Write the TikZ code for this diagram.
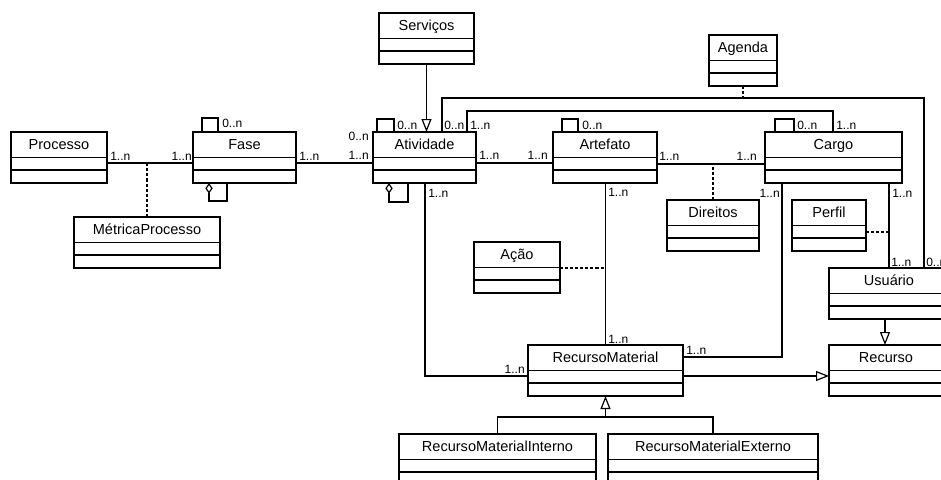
\documentclass[tikz,border=0pt]{standalone}
\usepackage{fontspec}
\setmainfont{Liberation Sans}
\usetikzlibrary{arrows.meta,calc}

\tikzset{
  classbox/.style={draw, line width=0.9pt, rectangle, outer sep=0pt, inner sep=0pt,
                   minimum height=38.25pt, anchor=north west, fill=white},
  classname/.style={anchor=base, inner sep=0pt, font=\fontsize{10.9}{12}\selectfont},
  mult/.style={inner sep=0pt, font=\fontsize{9}{10}\selectfont},
  assoc/.style={line width=0.9pt},
  dep/.style={line width=0.9pt, dash pattern=on 2.3pt off 1.5pt},
  gen/.style={line width=0.9pt, -{Triangle[open, length=9.75pt, width=7.5pt]}},
  aggr/.style={line width=0.9pt, {Diamond[open, length=8pt, width=5.5pt]}-},
}

% UML class: id, left, top, width (px), name
\newcommand\umlclass[5]{%
  \node[classbox, minimum width=#4*0.75pt] (#1) at (#2,#3) {};
  \draw[line width=0.9pt] ([yshift=-19.1pt]#1.north west) -- ([yshift=-19.1pt]#1.north east);
  \draw[line width=0.9pt] ([yshift=-28.5pt]#1.north west) -- ([yshift=-28.5pt]#1.north east);
  \node[classname] at ([yshift=-12.75pt]#1.north) {#5};
}

\begin{document}
\begin{tikzpicture}[x=0.75pt, y=-0.75pt]
\useasboundingbox (0,0) rectangle (941,479);
\clip (0,0) rectangle (941,479);

% classes
\umlclass{proc}{11}{132}{96}{Processo}
\umlclass{fase}{193}{132}{103}{Fase}
\umlclass{metr}{74}{217}{146}{MétricaProcesso}
\umlclass{serv}{379}{13}{95}{Serviços}
\umlclass{ativ}{373}{132}{103}{Atividade}
\umlclass{art}{553}{132}{104}{Artefato}
\umlclass{agenda}{709}{35}{68}{Agenda}
\umlclass{cargo}{765}{132}{137}{Cargo}
\umlclass{dir}{667}{200}{92}{Direitos}
\umlclass{perfil}{792}{200}{74}{Perfil}
\umlclass{acao}{474}{242}{86}{Ação}
\umlclass{usu}{829}{268}{120}{Usuário}
\umlclass{rec}{829}{345}{114}{Recurso}
\umlclass{rm}{528}{345}{155}{RecursoMaterial}
\umlclass{rmi}{399}{434}{197}{RecursoMaterialInterno}
\umlclass{rme}{608}{434}{210}{RecursoMaterialExterno}

% routing levels
\coordinate (yRow) at (0,163);
\coordinate (yRow2) at (0,164);
\coordinate (busA) at (442,98);
\coordinate (busAend) at (924,98);
\coordinate (busB) at (467,111);
\coordinate (busBend) at (833,111);
\coordinate (yRM) at (0,376);
\coordinate (yCR) at (0,357);
\coordinate (xCU) at (889,0);
\coordinate (xUR) at (885,0);
\coordinate (yPf) at (0,232);
\coordinate (yAc) at (0,268);
\coordinate (yT) at (0,417);

% associations along the main row
\draw[assoc] (proc.east |- yRow) -- (fase.west |- yRow);
\draw[assoc] (fase.east |- yRow) -- (ativ.west |- yRow);
\draw[assoc] (ativ.east |- yRow) -- (art.west |- yRow);
\draw[assoc] (art.east |- yRow2) -- (cargo.west |- yRow2);

% association classes
\draw[dep] (metr.north) -- (metr.north |- yRow);
\draw[dep] (dir.north) -- (dir.north |- yRow2);
\draw[dep] (agenda.south) -- (agenda.south |- busA);
\draw[dep] (perfil.east |- yPf) -- (xCU |- yPf);
\draw[dep] (acao.east |- yAc) -- (rm.north |- yAc);

% self associations
\draw[assoc] ($(fase.north west)+(9,0)$) -- ++(0,-14) -- ++(16,0) -- ++(0,14);
\draw[assoc] ($(ativ.north west)+(4,0)$) -- ++(0,-13) -- ++(17,0) -- ++(0,13);
\draw[assoc] ($(art.north west)+(9,0)$) -- ++(0,-13) -- ++(16,0) -- ++(0,13);
\draw[assoc] ($(cargo.north west)+(10,0)$) -- ++(0,-13) -- ++(19,0) -- ++(0,13);

% self aggregations
\draw[aggr] ($(fase.south west)+(16,0)$) -- ++(0,18) -- ++(18,0) -- ++(0,-18);
\draw[aggr] ($(ativ.south west)+(16,0)$) -- ++(0,19) -- ++(19,0) -- ++(0,-19);

% long routes above the row
\draw[assoc] (ativ.north -| busA) -- (busA) -- (busAend) -- (usu.north -| busAend);
\draw[assoc] (ativ.north -| busB) -- (busB) -- (busBend) -- (cargo.north -| busBend);

% routes down to the resources
\draw[assoc] ($(ativ.south west)+(52,0)$) |- (rm.west |- yRM);
\draw[assoc] (art.south -| rm.north) -- (rm.north);
\draw[assoc] ($(cargo.south west)+(17,0)$) |- (rm.east |- yCR);
\draw[assoc] (cargo.south -| xCU) -- (usu.north -| xCU);

% generalizations
\draw[gen] (serv.south) -- (serv.south |- ativ.north);
\draw[gen] (usu.south -| xUR) -- (rec.north -| xUR);
\draw[gen] (rm.east |- yRM) -- (rec.west |- yRM);
\draw[assoc] (rmi.north) |- (rme.north |- yT) -- (rme.north);
\draw[gen] (rm.south |- yT) -- (rm.south);

% multiplicities
\node[mult, anchor=base west] at (110,160) {1..n};
\node[mult, anchor=base east] at (192,160) {1..n};
\node[mult, anchor=base west] at (222,127) {0..n};
\node[mult, anchor=base west] at (299,160) {1..n};
\node[mult, anchor=base east] at (369,159) {1..n};
\node[mult, anchor=base east] at (369,140) {0..n};
\node[mult, anchor=base west] at (397,129) {0..n};
\node[mult, anchor=base west] at (444,129) {0..n};
\node[mult, anchor=base west] at (470,129) {1..n};
\node[mult, anchor=base west] at (479,159) {1..n};
\node[mult, anchor=base east] at (548,159) {1..n};
\node[mult, anchor=base west] at (582,129) {0..n};
\node[mult, anchor=base west] at (659,160) {1..n};
\node[mult, anchor=base east] at (757,160) {1..n};
\node[mult, anchor=base west] at (797,129) {0..n};
\node[mult, anchor=base west] at (836,129) {1..n};
\node[mult, anchor=base west] at (428,197) {1..n};
\node[mult, anchor=base west] at (608,196) {1..n};
\node[mult, anchor=base east] at (780,197) {1..n};
\node[mult, anchor=base west] at (892,197) {1..n};
\node[mult, anchor=base west] at (608,343) {1..n};
\node[mult, anchor=base west] at (686,354) {1..n};
\node[mult, anchor=base east] at (525,373) {1..n};
\node[mult, anchor=base west] at (891,266) {1..n};
\node[mult, anchor=base west] at (926,266) {0..n};
\end{tikzpicture}
\end{document}
